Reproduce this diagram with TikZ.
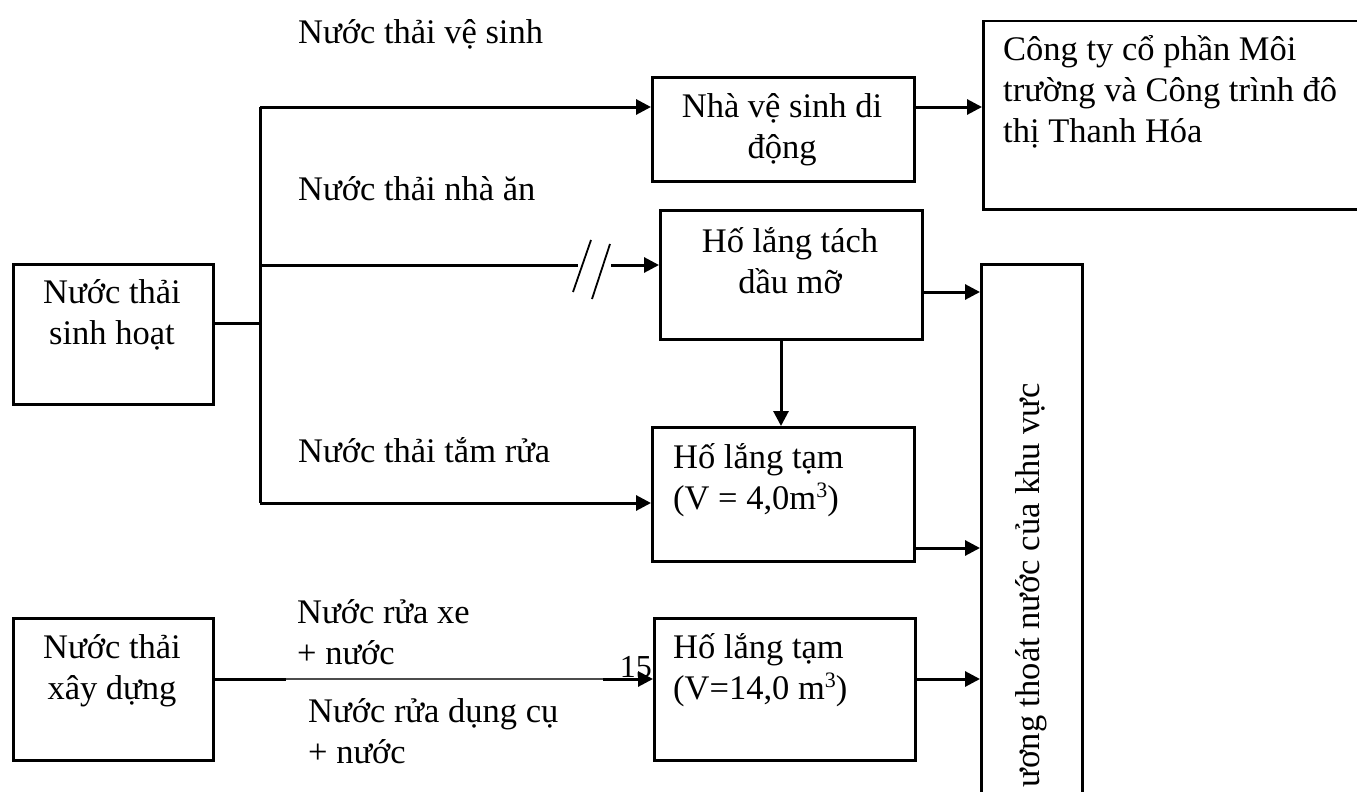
\documentclass[tikz,border=0pt]{standalone}
\usepackage{fontspec}
\setmainfont{Liberation Serif}
\usetikzlibrary{arrows.meta}
\newcommand{\fst}{\rule{0pt}{36pt}}
\newcommand{\cub}{\raisebox{12pt}{\fontsize{22}{22}\selectfont 3}}
\begin{document}
\begin{tikzpicture}[x=1pt,y=-1pt,
  box/.style={draw, line width=2.5pt, inner sep=0pt, anchor=north west},
  conn/.style={line width=3pt},
  arr/.style={conn, -{Triangle[length=15pt,width=15pt]}},
  thinline/.style={line width=1.2pt, black!70},
  slash/.style={line width=1.8pt},
  txt/.style={inner sep=0pt, font=\fontsize{34.5}{41}\selectfont},
  txtl/.style={txt, anchor=north west, align=left},
  txtc/.style={txt, anchor=north, align=center}]

\useasboundingbox (0,0) rectangle (1357,792);
\clip (0,0) rectangle (1357,792);
\fill[white] (0,0) rectangle (1357,792);

% boxes
\node[box, minimum width=200pt, minimum height=140pt] (src1) at (12,263) {};
\node[box, minimum width=262pt, minimum height=104pt] (ve) at (651,76) {};
\node[box, minimum width=398pt, minimum height=188pt] (cty) at (982,20) {};
\node[box, minimum width=262pt, minimum height=129pt] (tach) at (659,209) {};
\node[box, minimum width=101pt, minimum height=567pt] (drain) at (980,263) {};
\node[box, minimum width=262pt, minimum height=134pt] (tam1) at (651,426) {};
\node[box, minimum width=200pt, minimum height=142pt] (src2) at (12,617) {};
\node[box, minimum width=261pt, minimum height=142pt] (tam2) at (653,617) {};

% texts in boxes
\node[txtc] (tsrc1) at (112,267) {\fst Nước thải\\sinh hoạt};
\node[txtc] (tve) at (782,81) {\fst Nhà vệ sinh di\\động};
\node[txtl] (tcty) at (1003,24) {\fst Công ty cổ phần Môi\\trường và Công trình đô\\thị Thanh Hóa};
\node[txtc] (ttach) at (790,216) {\fst Hố lắng tách\\dầu mỡ};
\node[txtl] (ttam1) at (673,432) {\fst Hố lắng tạm\\(V = 4,0m\cub)};
\node[txtc] (tsrc2) at (112,622) {\fst Nước thải\\xây dựng};
\node[txtl] (ttam2) at (673,622) {\fst Hố lắng tạm\\(V=14,0 m\cub)};
\node[txt, rotate=90, anchor=base east] (tdrain) at (1039,383) {ương thoát nước của khu vực};

% labels
\node[txtl] (l1) at (298,7) {\fst Nước thải vệ sinh};
\node[txtl] (l2) at (298,164) {\fst Nước thải nhà ăn};
\node[txtl] (l3) at (298,426) {\fst Nước thải tắm rửa};
\node[txtl] (l4) at (297,587) {\fst Nước rửa xe\\+ nước};
\node[txtl] (l5) at (308,686) {\fst Nước rửa dụng cụ\\+ nước};
\node[inner sep=0pt, anchor=base east, font=\fontsize{32}{36}\selectfont] (l15) at (652,677) {15};

% helper coordinates
\coordinate (jt) at (260,107);
\coordinate (jn) at (260,265);
\coordinate (jm) at (260,323);
\coordinate (jb) at (260,503);
\coordinate (brk1) at (578,265);
\coordinate (brk2) at (611,265);
\coordinate (y1) at (0,292);
\coordinate (y2) at (0,548);
\coordinate (y3) at (0,679);
\coordinate (vx) at (781,0);
\coordinate (b1) at (286,679);
\coordinate (b2) at (603,679);

% connectors
\draw[conn] (src1.east |- jm) -- (jm);
\draw[conn] (jt) -- (jb);
\draw[arr] (jt) -- (ve.west |- jt);
\draw[arr] (ve.east |- jt) -- (cty.west |- jt);
\draw[conn] (jn) -- (brk1);
\draw[slash] (573,292) -- (591,240);
\draw[slash] (592,299) -- (610,244);
\draw[arr] (brk2) -- (tach.west |- brk2);
\draw[arr] (tach.east |- y1) -- (drain.west |- y1);
\draw[arr] (tach.south -| vx) -- (tam1.north -| vx);
\draw[arr] (jb) -- (tam1.west |- jb);
\draw[arr] (tam1.east |- y2) -- (drain.west |- y2);
\draw[conn] (src2.east |- y3) -- (b1);
\draw[thinline] (b1) -- (b2);
\draw[arr] (b2) -- (tam2.west |- y3);
\draw[arr] (tam2.east |- y3) -- (drain.west |- y3);
\end{tikzpicture}
\end{document}
